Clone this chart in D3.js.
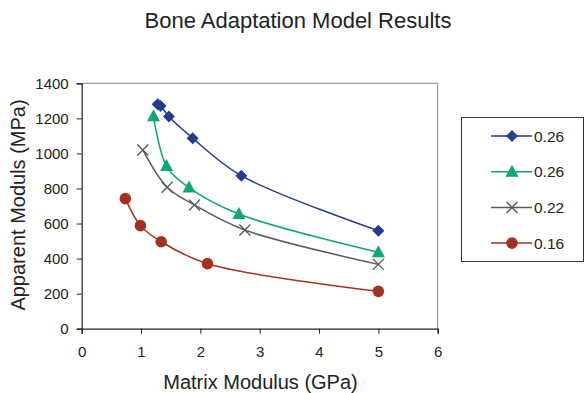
<!DOCTYPE html>
<html>
<head>
<meta charset="utf-8">
<script src="https://cdn.jsdelivr.net/npm/d3@7"></script>
<style>
  html, body { margin: 0; padding: 0; background: #fff; }
  svg { display: block; font-family: "Liberation Sans", Arial, sans-serif; }
</style>
</head>
<body>
<svg id="chart" width="587" height="393"></svg>
<script>
// Matrix modulus (GPa) and apparent modulus (MPa) for each porosity series
const seriesNames = ["0.26", "0.26", "0.22", "0.16"];
const blueX  = [1.28, 1.33, 1.47, 1.87, 2.69, 5.0];
const blueY  = [1280, 1271, 1210, 1087, 873, 559];
const greenX = [1.21, 1.43, 1.81, 2.65, 5.0];
const greenY = [1212, 928, 805, 654, 436];
const grayX  = [1.03, 1.44, 1.90, 2.75, 5.0];
const grayY  = [1020, 807, 706, 563, 367];
const redX   = [0.735, 0.99, 1.34, 2.12, 5.0];
const redY   = [742, 588, 496, 371, 213];
const xTicks = [0, 1, 2, 3, 4, 5, 6];
const yTicks = [0, 200, 400, 600, 800, 1000, 1200, 1400];

const series = [
  { name: seriesNames[0], xs: blueX,  ys: blueY,  color: "#263b8e", marker: "diamond" },
  { name: seriesNames[1], xs: greenX, ys: greenY, color: "#10a673", marker: "triangle" },
  { name: seriesNames[2], xs: grayX,  ys: grayY,  color: "#5a5a5a", marker: "cross" },
  { name: seriesNames[3], xs: redX,   ys: redY,   color: "#a5321f", marker: "circle" }
];

const svg = d3.select("#chart");
const plotL = 81.7, plotR = 437.7, plotT = 83.3, plotB = 328.7;

const x = d3.scaleLinear().domain([0, 6]).range([plotL, plotR]);
const y = d3.scaleLinear().domain([0, 1400]).range([plotB, plotT]);

// Title
svg.append("text")
  .attr("x", 298).attr("y", 28)
  .attr("text-anchor", "middle")
  .attr("font-size", 22).attr("fill", "#222")
  .text("Bone Adaptation Model Results");

// Plot frame (top and right edges)
svg.append("path")
  .attr("d", `M${plotL},${plotT}H${plotR}V${plotB}`)
  .attr("fill", "none").attr("stroke", "#888").attr("stroke-width", 1);

// Axes
const xAxis = svg.append("g")
  .attr("transform", `translate(0,${plotB})`)
  .call(d3.axisBottom(x).tickValues(xTicks).tickSize(5).tickPadding(13).tickFormat(d3.format("d")));
const yAxis = svg.append("g")
  .attr("transform", `translate(${plotL},0)`)
  .call(d3.axisLeft(y).tickValues(yTicks).tickSize(5).tickPadding(8).tickFormat(d3.format("d")));

[xAxis, yAxis].forEach(g => {
  g.select(".domain").attr("stroke", "#222").attr("stroke-width", 1.2);
  g.selectAll(".tick line").attr("stroke", "#222");
  g.selectAll(".tick text")
    .attr("font-size", 15).attr("fill", "#222")
    .attr("font-family", "'Liberation Sans', Arial, sans-serif");
});

// Axis titles
svg.append("text")
  .attr("x", 260.5).attr("y", 389)
  .attr("text-anchor", "middle")
  .attr("font-size", 20).attr("fill", "#222")
  .text("Matrix Modulus (GPa)");
svg.append("text")
  .attr("transform", "translate(25,205) rotate(-90)")
  .attr("text-anchor", "middle")
  .attr("font-size", 20).attr("fill", "#222")
  .text("Apparent Moduls (MPa)");

// Marker shapes
function drawMarker(g, kind, cx, cy, color) {
  if (kind === "diamond") {
    g.append("path")
      .attr("d", `M${cx},${cy - 6}L${cx + 6},${cy}L${cx},${cy + 6}L${cx - 6},${cy}Z`)
      .attr("fill", color);
  } else if (kind === "triangle") {
    g.append("path")
      .attr("d", `M${cx},${cy - 7}L${cx + 6.5},${cy + 5}L${cx - 6.5},${cy + 5}Z`)
      .attr("fill", color);
  } else if (kind === "cross") {
    g.append("path")
      .attr("d", `M${cx - 5.5},${cy - 5.5}L${cx + 5.5},${cy + 5.5}M${cx + 5.5},${cy - 5.5}L${cx - 5.5},${cy + 5.5}`)
      .attr("stroke", color).attr("stroke-width", 1.4).attr("fill", "none");
  } else {
    g.append("circle").attr("cx", cx).attr("cy", cy).attr("r", 5.8).attr("fill", color);
  }
}

// Smoothed series lines and markers
const line = d3.line()
  .x(d => x(d[0])).y(d => y(d[1]))
  .curve(d3.curveCatmullRom.alpha(0.5));

series.forEach(s => {
  const pts = s.xs.map((v, i) => [v, s.ys[i]]);
  svg.append("path")
    .datum(pts)
    .attr("d", line)
    .attr("fill", "none")
    .attr("stroke", s.color)
    .attr("stroke-width", 1.5);
  const g = svg.append("g");
  pts.forEach(p => drawMarker(g, s.marker, x(p[0]), y(p[1]), s.color));
});

// Legend
const legend = svg.append("g");
legend.append("rect")
  .attr("x", 461.5).attr("y", 117.5).attr("width", 122).attr("height", 144)
  .attr("fill", "#fff").attr("stroke", "#333").attr("stroke-width", 1);
series.forEach((s, i) => {
  const cy = 136 + i * 35.7;
  legend.append("line")
    .attr("x1", 491).attr("x2", 532).attr("y1", cy).attr("y2", cy)
    .attr("stroke", s.color).attr("stroke-width", 1.5);
  drawMarker(legend, s.marker, 512, cy, s.color);
  legend.append("text")
    .attr("x", 534).attr("y", cy + 5.5)
    .attr("font-size", 15.5).attr("fill", "#222")
    .text(s.name);
});
</script>
</body>
</html>
